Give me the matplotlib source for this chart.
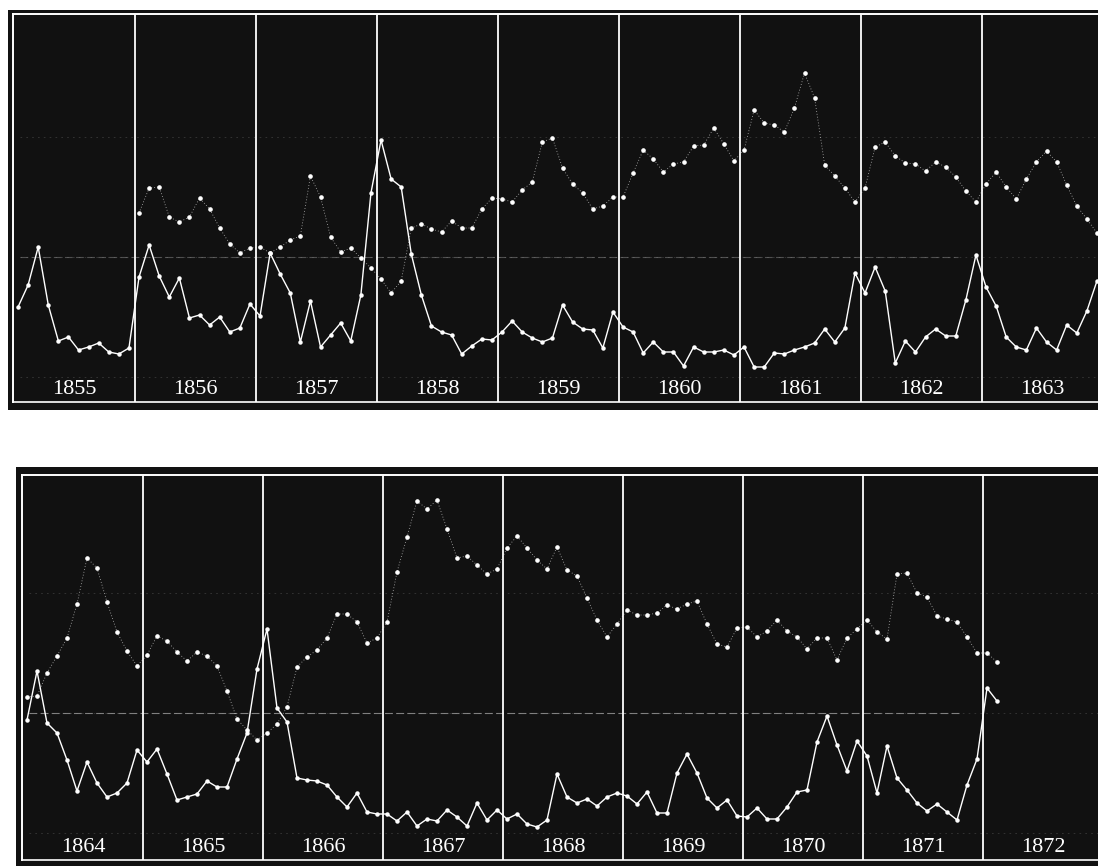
import numpy as np
import matplotlib
matplotlib.use("Agg")
import matplotlib.pyplot as plt

# ---------------- data (arbitrary height units) -------------
years_top = ["1855", "1856", "1857", "1858", "1859", "1860", "1861", "1862", "1863"]
years_bottom = ["1864", "1865", "1866", "1867", "1868", "1869", "1870", "1871", "1872"]

nan = np.nan

# solid line series, 12 monthly values per year
solid_top = [
    103, 125, 163, 105, 69, 73, 60, 63, 67, 58, 56, 62,      # 1855
    133, 165, 134, 113, 132, 92, 95, 85, 93, 78, 82, 106,    # 1856
    94, 157, 136, 117, 68, 109, 63, 75, 87, 69, 115, 217,    # 1857
    270, 231, 223, 156, 115, 84, 78, 75, 56, 64, 71, 70,     # 1858
    78, 89, 78, 72, 68, 72, 105, 88, 81, 80, 62, 98,         # 1859
    83, 78, 57, 68, 58, 58, 44, 63, 58, 58, 60, 55,          # 1860
    63, 43, 43, 57, 56, 60, 63, 67, 81, 68, 82, 137,         # 1861
    117, 143, 119, 47, 69, 58, 73, 81, 74, 74, 110, 155,     # 1862
    123, 104, 73, 63, 60, 82, 68, 60, 85, 77, 99, 129,       # 1863
]

# dotted line series
dotted_top = [
    nan, nan, nan, nan, nan, nan, nan, nan, nan, nan, nan, nan,   # 1855
    197, 222, 223, 193, 188, 193, 212, 201, 182, 166, 157, 162,   # 1856
    163, 157, 163, 170, 174, 234, 213, 173, 158, 162, 152, 142,   # 1857
    131, 117, 129, 182, 186, 181, 178, 189, 182, 182, 201, 212,   # 1858
    211, 208, 220, 228, 268, 272, 242, 226, 217, 201, 204, 213,   # 1859
    213, 237, 260, 251, 238, 246, 248, 264, 265, 282, 266, 249,   # 1860
    260, 300, 287, 285, 278, 302, 337, 312, 245, 234, 222, 208,   # 1861
    222, 263, 268, 254, 247, 246, 239, 248, 243, 233, 219, 208,   # 1862
    226, 238, 223, 211, 231, 248, 259, 248, 225, 204, 191, 177,   # 1863
]

solid_bottom = [
    146, 195, 143, 133, 106, 75, 104, 83, 69, 73, 83, 116,   # 1864
    104, 117, 92, 66, 69, 72, 85, 79, 79, 107, 133, 197,     # 1865
    237, 158, 144, 88, 86, 85, 81, 69, 59, 73, 54, 52,       # 1866
    52, 45, 54, 40, 47, 45, 56, 49, 40, 63, 46, 56,          # 1867
    47, 52, 42, 39, 46, 92, 69, 63, 67, 60, 69, 73,          # 1868
    70, 62, 74, 53, 53, 93, 112, 93, 68, 58, 66, 50,         # 1869
    49, 58, 47, 47, 59, 74, 76, 124, 150, 121, 95, 125,      # 1870
    110, 73, 120, 88, 76, 63, 55, 62, 54, 46, 81, 107,       # 1871
    178, 165, nan, nan, nan, nan, nan, nan, nan, nan, nan, nan,  # 1872
]

dotted_bottom = [
    169, 170, 193, 210, 228, 262, 308, 298, 264, 234, 215, 200,   # 1864
    211, 230, 225, 214, 205, 214, 210, 200, 175, 147, 136, 126,   # 1865
    133, 142, 159, 199, 209, 216, 228, 252, 252, 244, 223, 228,   # 1866
    244, 294, 329, 365, 357, 366, 337, 308, 310, 301, 292, 297,   # 1867
    318, 330, 318, 306, 297, 319, 296, 290, 268, 246, 229, 242,   # 1868
    256, 251, 251, 253, 261, 257, 262, 265, 242, 222, 219, 238,   # 1869
    239, 229, 235, 246, 235, 229, 217, 228, 228, 206, 228, 237,   # 1870
    246, 234, 227, 292, 293, 273, 269, 250, 247, 244, 229, 213,   # 1871
    213, 204, nan, nan, nan, nan, nan, nan, nan, nan, nan, nan,   # 1872
]

grid_levels = [33, 153, 273]

# ---------------- figure -----------------------------------------------------------------
W, H = 1098, 866
fig = plt.figure(figsize=(W / 100, H / 100), dpi=100, facecolor="white")
BLACK = "#111111"


def make_panel(rect_px, year0_px, year_w_px, ymax, labels, solid, dotted,
               frame_left_px, frame_top_val, frame_bot_val, label_val,
               strong_grid, strong_alpha):
    x0, y0, x1, y1 = rect_px  # left, top, right, bottom in pixels
    ax = fig.add_axes([x0 / W, (H - y1) / H, (x1 - x0) / W, (y1 - y0) / H])
    ax.set_facecolor(BLACK)
    ax.set_xlim((x0 - year0_px) / year_w_px, (x1 - year0_px) / year_w_px)
    ax.set_ylim(0, ymax)
    for s in ax.spines.values():
        s.set_visible(False)
    ax.set_xticks([])
    ax.set_yticks([])

    n_years = len(labels)
    fl = (frame_left_px - year0_px) / year_w_px

    # faint horizontal guide lines
    for g in grid_levels:
        ax.hlines(g, 0.05, n_years, colors="#666666", linestyles=(0, (2, 5)),
                  linewidth=0.6, alpha=0.45, zorder=1)
    ax.hlines(strong_grid, 0.05, 7.8, colors="#9a9a9a", linestyles=(0, (7, 3)),
              linewidth=0.8, alpha=strong_alpha, zorder=1)

    # inner white frame
    ax.plot([fl, fl], [frame_bot_val, frame_top_val], color="white", lw=1.4, zorder=3)
    ax.plot([fl, n_years + 1], [frame_top_val, frame_top_val], color="white", lw=1.4, zorder=3)
    ax.plot([fl, n_years + 1], [frame_bot_val, frame_bot_val], color="white", lw=1.2, zorder=3)

    # year separators
    ax.vlines(np.arange(1, n_years), frame_bot_val, frame_top_val,
              colors="white", linewidth=1.3, zorder=3)

    # year labels
    for i, lab in enumerate(labels):
        ax.text(i + 0.5, label_val, lab, color="white", ha="center", va="center",
                fontsize=16, family=["Liberation Serif", "DejaVu Serif"], zorder=4)

    months = np.arange(n_years * 12)
    xs = months // 12 + (months % 12 + 0.4) / 12.0

    ax.plot(xs, dotted, color="white", lw=0.6, ls=(0, (1, 2.5)), alpha=0.7, zorder=4)
    ax.plot(xs, dotted, ls="none", marker="o", ms=2.3, color="white", zorder=5)
    ax.plot(xs, solid, color="white", lw=1.0, marker="o", ms=2.2, zorder=6)
    return ax


# top panel: black block 8..1106 px wide, 10..410 px high, years start at 14 px, 121 px per year
make_panel((8, 10, 1106, 410), 14, 121, 400, years_top, solid_top, dotted_top,
           frame_left_px=12.5, frame_top_val=396.5, frame_bot_val=8,
           label_val=21, strong_grid=153, strong_alpha=0.45)

# bottom panel: 16..1106 px wide, 467..866 px high, years start at 23 px, 120 px per year
make_panel((16, 467, 1106, 866), 23, 120, 399, years_bottom, solid_bottom, dotted_bottom,
           frame_left_px=22, frame_top_val=391, frame_bot_val=6,
           label_val=19, strong_grid=153, strong_alpha=0.8)

fig.savefig("out.png", dpi=100, facecolor="white")
